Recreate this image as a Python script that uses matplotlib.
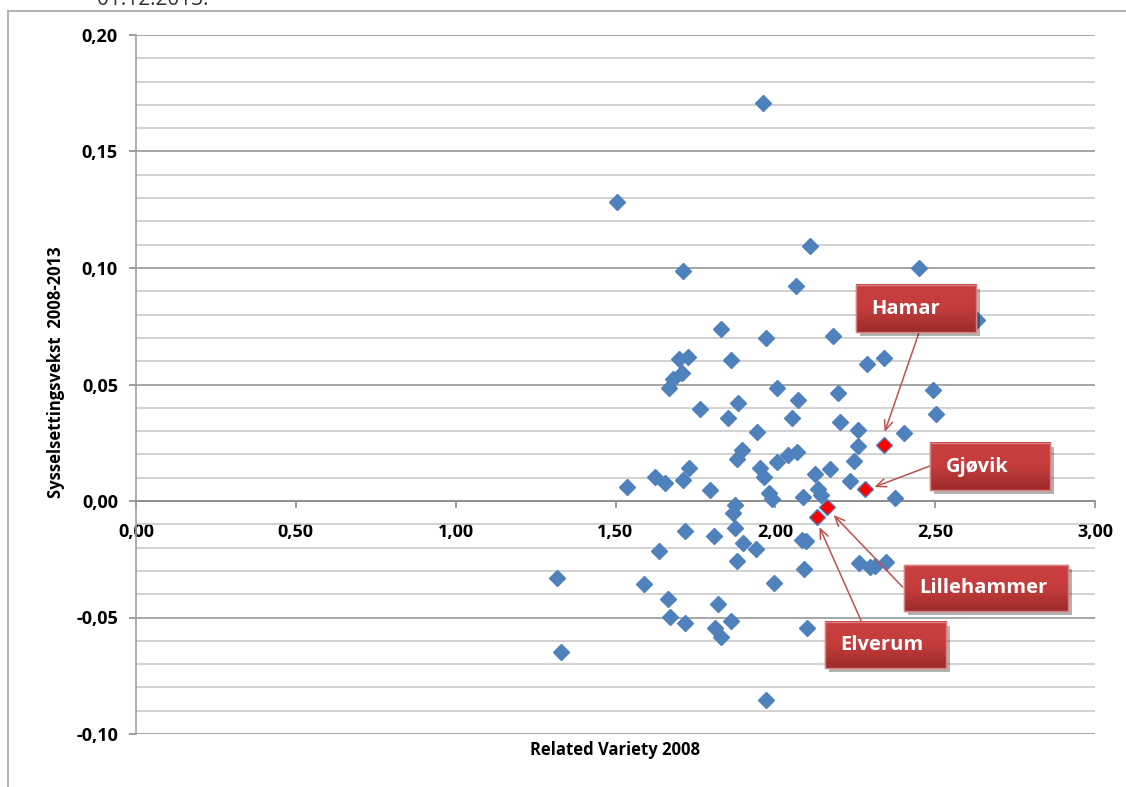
import numpy as np
import matplotlib.pyplot as plt
from matplotlib import patheffects
from matplotlib.patches import Rectangle
from matplotlib.colors import LinearSegmentedColormap
from matplotlib.ticker import MultipleLocator, FuncFormatter

plt.rcParams['font.family'] = ['Open Sans', 'DejaVu Sans']
plt.rcParams['font.weight'] = 'bold'

# related variety 2008 (x) og sysselsettingsvekst 2008-2013 (y), øvrige kommuner
rv_2008 = [1.962, 1.505, 2.110, 1.712, 2.448, 2.066, 2.630, 1.831, 1.972, 2.179,
           1.699, 1.727, 1.862, 2.288, 2.339, 1.708, 1.680, 1.668, 2.006, 2.197,
           2.492, 2.072, 1.765, 1.884, 1.853, 2.053, 2.502, 2.201, 1.944, 2.260,
           2.404, 2.260, 1.897, 1.881, 2.041, 2.069, 2.006, 2.245, 1.953, 1.966,
           1.730, 2.125, 2.172, 1.624, 1.655, 1.712, 2.235, 1.796, 2.135, 2.144,
           1.981, 1.991, 2.088, 2.373, 1.875, 1.868, 1.536, 1.718, 1.809, 1.875,
           1.900, 1.940, 2.082, 2.097, 1.636, 1.881, 2.263, 2.295, 2.313, 2.345,
           2.091, 1.589, 1.997, 1.317, 1.665, 1.821, 1.671, 1.718, 1.812, 1.831,
           1.862, 2.100, 1.972, 1.329]
vekst = [0.1708, 0.1283, 0.1094, 0.0987, 0.1000, 0.0923, 0.0777, 0.0738, 0.0700, 0.0708,
         0.0609, 0.0618, 0.0605, 0.0588, 0.0614, 0.0549, 0.0524, 0.0485, 0.0485, 0.0464,
         0.0476, 0.0433, 0.0395, 0.0421, 0.0356, 0.0356, 0.0373, 0.0339, 0.0296, 0.0305,
         0.0292, 0.0236, 0.0219, 0.0180, 0.0197, 0.0210, 0.0167, 0.0172, 0.0142, 0.0103,
         0.0142, 0.0116, 0.0137, 0.0103, 0.0077, 0.0090, 0.0086, 0.0047, 0.0052, 0.0026,
         0.0034, 0.0009, 0.0017, 0.0013, -0.0017, -0.0052, 0.0060, -0.0129, -0.0150, -0.0116,
         -0.0180, -0.0206, -0.0167, -0.0172, -0.0215, -0.0258, -0.0266, -0.0283, -0.0279, -0.0262,
         -0.0292, -0.0356, -0.0352, -0.0330, -0.0421, -0.0442, -0.0498, -0.0524, -0.0545, -0.0584,
         -0.0515, -0.0545, -0.0854, -0.0648]

# de fire byene
byer = ['Hamar', 'Gjøvik', 'Lillehammer', 'Elverum']
by_rv = [2.339, 2.279, 2.163, 2.129]
by_vekst = [0.0240, 0.0052, -0.0026, -0.0069]

W, H = 1126, 787
fig = plt.figure(figsize=(W / 100, H / 100), dpi=100)
ax = fig.add_axes([136 / W, 53 / H, (1095 - 136) / W, 699 / H])

ax.plot(rv_2008, vekst, 'D', ms=8.4, color='#4F81BD', mec='#4F81BD', zorder=3)
ax.plot(by_rv, by_vekst, 'D', ms=8.4, color='#FF0000', mec='#4F81BD', mew=1.0, zorder=4)

ax.xaxis.set_major_locator(MultipleLocator(0.5))
ax.yaxis.set_major_locator(MultipleLocator(0.05))
ax.yaxis.set_minor_locator(MultipleLocator(0.01))
fmt = FuncFormatter(lambda v, p: f'{v:.2f}'.replace('.', ',').replace('-0,00', '0,00'))
ax.xaxis.set_major_formatter(fmt)
ax.yaxis.set_major_formatter(fmt)

ax.grid(which='major', axis='y', color='#969696', lw=1.2, zorder=0)
ax.grid(which='minor', axis='y', color='#cacaca', lw=1.2, zorder=0)
ax.set_axisbelow(True)

for s in ['top', 'right']:
    ax.spines[s].set_visible(False)
ax.spines['bottom'].set_position(('data', 0))
ax.spines['bottom'].set_color('#8c8c8c')
ax.spines['bottom'].set_linewidth(1.2)
ax.spines['left'].set_color('#a0a0a0')
ax.spines['left'].set_linewidth(1.2)

ax.tick_params(axis='y', which='major', length=5, width=1.2, color='#8c8c8c', pad=8,
               labelsize=13)
ax.tick_params(axis='y', which='minor', length=0)
ax.tick_params(axis='x', which='major', length=5, width=1.2, color='#8c8c8c', pad=11,
               labelsize=13)

ax.set_xlabel('Related Variety 2008', fontsize=12, fontweight='bold')
ax.xaxis.set_label_coords(0.5, -0.010)
ax.xaxis.label.set_va('top')
ax.set_ylabel('Sysselsettingsvekst  2008-2013', fontsize=12, fontweight='bold')
ax.yaxis.set_label_coords(-0.074, 0.518)

# pil-etiketter
boks = dict(Hamar=(2.251, 0.0725, 2.627, 0.0927),
            Gjøvik=(2.483, 0.0047, 2.859, 0.0249),
            Lillehammer=(2.401, -0.0472, 2.915, -0.0275),
            Elverum=(2.154, -0.0717, 2.533, -0.0519))
pil = dict(Hamar=((2.450, 0.0725), (2.342, 0.0296)),
           Gjøvik=((2.483, 0.0150), (2.310, 0.0060)),
           Lillehammer=((2.398, -0.0369), (2.182, -0.0060)),
           Elverum=((2.270, -0.0519), (2.138, -0.0112)))

rød = LinearSegmentedColormap.from_list('rød', ['#9C2B2B', '#C53C3C', '#CA4040'])
grad = np.linspace(0, 1, 64).reshape(-1, 1)
shadow = [patheffects.withSimplePatchShadow(offset=(3, -3), shadow_rgbFace='#000000', alpha=0.3)]
for navn in byer:
    start, tip = pil[navn]
    ax.annotate('', xy=tip, xytext=start,
                arrowprops=dict(arrowstyle='->,head_length=0.7,head_width=0.3',
                                color='#C0504D', lw=1.1, shrinkA=0, shrinkB=0),
                zorder=5)
    x0, y0, x1, y1 = boks[navn]
    r = Rectangle((x0, y0), x1 - x0, y1 - y0, facecolor='#BE3535', edgecolor='#D98080',
                  lw=1.0, zorder=6, clip_on=False)
    r.set_path_effects(shadow)
    ax.add_patch(r)
    ax.imshow(grad, cmap=rød, extent=(x0, x1, y0, y1), origin='lower', aspect='auto',
              zorder=6.5, clip_on=False)
    ax.add_patch(Rectangle((x0, y0), x1 - x0, y1 - y0, facecolor='none',
                           edgecolor='#D98080', lw=1.0, zorder=6.8, clip_on=False))
    ax.text(x0 + 0.05, (y0 + y1) / 2, navn, color='white', fontsize=14.5, fontweight='bold',
            ha='left', va='center', zorder=7)

ax.set_xlim(0, 3)
ax.set_ylim(-0.10, 0.20)

# diagramramme og avkuttet tekst øverst
fig.add_artist(plt.Line2D([8 / W, 8 / W], [0, 1 - 11 / H], color='#a6a6a6', lw=1.2))
fig.add_artist(plt.Line2D([8 / W, 1], [1 - 11 / H, 1 - 11 / H], color='#a6a6a6', lw=1.2))
fig.text(97 / W, 1 - 5 / H, '01.12.2013.', fontsize=15, fontweight='normal',
         color='#333333', va='baseline')

fig.savefig('out.png', dpi=100)
